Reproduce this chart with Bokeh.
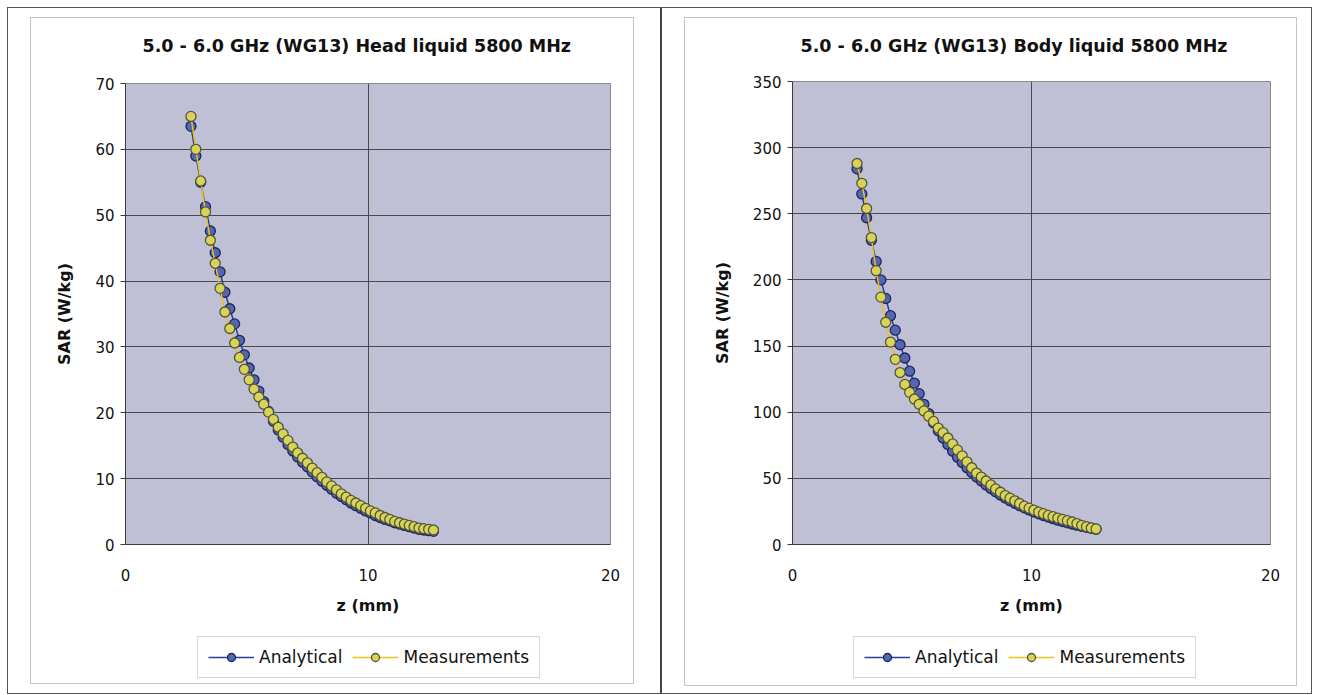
from bokeh.plotting import figure
from bokeh.layouts import row, column
from bokeh.models import Range1d, FixedTicker, Legend, LegendItem, Title
from bokeh.embed import file_html
from bokeh.resources import INLINE

# ---------------- data ----------------
z_mm = [2.7, 2.9, 3.1, 3.3, 3.5, 3.7, 3.9, 4.1, 4.3, 4.5,
        4.7, 4.9, 5.1, 5.3, 5.5, 5.7, 5.9, 6.1, 6.3, 6.5,
        6.7, 6.9, 7.1, 7.3, 7.5, 7.7, 7.9, 8.1, 8.3, 8.5,
        8.7, 8.9, 9.1, 9.3, 9.5, 9.7, 9.9, 10.1, 10.3, 10.5,
        10.7, 10.9, 11.1, 11.3, 11.5, 11.7, 11.9, 12.1, 12.3, 12.5,
        12.7]

head_analytical = [63.5, 59.0, 55.0, 51.3, 47.6, 44.3, 41.4, 38.3, 35.8, 33.5,
                   31.0, 28.8, 26.8, 25.0, 23.3, 21.7, 20.2, 18.7, 17.4, 16.3,
                   15.2, 14.2, 13.3, 12.5, 11.8, 11.0, 10.3, 9.6, 9.0, 8.4,
                   7.8, 7.3, 6.8, 6.3, 5.9, 5.5, 5.1, 4.8, 4.4, 4.1,
                   3.8, 3.6, 3.3, 3.1, 2.9, 2.7, 2.5, 2.3, 2.2, 2.1,
                   2.0]

head_measured = [65.0, 60.0, 55.2, 50.5, 46.2, 42.7, 38.9, 35.3, 32.8, 30.6,
                 28.4, 26.6, 25.0, 23.6, 22.4, 21.3, 20.1, 19.0, 17.8, 16.8,
                 15.8, 14.8, 13.9, 13.1, 12.4, 11.6, 10.9, 10.2, 9.5, 8.9,
                 8.3, 7.7, 7.2, 6.7, 6.3, 5.9, 5.5, 5.1, 4.8, 4.4,
                 4.1, 3.8, 3.5, 3.3, 3.1, 2.9, 2.7, 2.5, 2.4, 2.3,
                 2.2]

body_analytical = [284, 265, 247, 230, 214, 200, 186, 173, 162, 151,
                   141, 131, 122, 114, 106, 99, 92, 86, 80.5, 75.5,
                   70.5, 66, 62, 58, 54.5, 51, 48, 45, 42.3, 39.8,
                   37.4, 35.2, 33.1, 31.2, 29.4, 27.7, 26.1, 24.6, 23.2, 21.9,
                   20.7, 19.5, 18.4, 17.4, 16.4, 15.5, 14.6, 13.8, 13.0, 12.3,
                   11.6]

body_measured = [288, 273, 254, 232, 207, 187, 168, 153, 140, 130,
                 121, 115, 110, 106, 101, 97, 93, 88, 84.5, 80.5,
                 76, 71.5, 67, 62.5, 58, 54, 51, 48, 45, 42,
                 39.5, 37, 35, 33, 31, 29, 27.5, 26, 24.5, 23.3,
                 22, 21, 20, 19, 18, 17, 15.8, 14.5, 13.5, 12.5,
                 11.8]

x_ticks = [0, 10, 20]
head_y_ticks = [0, 10, 20, 30, 40, 50, 60, 70]
body_y_ticks = [0, 50, 100, 150, 200, 250, 300, 350]

head_title = "5.0 - 6.0 GHz (WG13) Head liquid 5800 MHz"
body_title = "5.0 - 6.0 GHz (WG13) Body liquid 5800 MHz"
series_names = ["Analytical", "Measurements"]
x_label = "z (mm)"
y_label = "SAR (W/kg)"

FONT = "DejaVu Sans"

ANA_STYLE = dict(fill_color="#5565b2", line_color="#1c2660")
MEAS_STYLE = dict(fill_color="#d8d45a", line_color="#55553a")
ANA_LINE = "#2e3d96"
MEAS_LINE = "#e8c21a"


def add_series(p, ana, meas):
    la = p.line(z_mm, ana, line_color=ANA_LINE, line_width=1.5)
    sa = p.scatter(z_mm, ana, marker="circle", size=10, line_width=1.3, **ANA_STYLE)
    lm = p.line(z_mm, meas, line_color=MEAS_LINE, line_width=1.5)
    sm = p.scatter(z_mm, meas, marker="circle", size=10, line_width=1.3, **MEAS_STYLE)
    return la, sa, lm, sm


def make_panel(title, ana, meas, ymax, yticks, fw, fh, mbl, mbr, mbt, mbb, toff, gap):
    p = figure(frame_width=fw, frame_height=fh, title=None,
               x_range=Range1d(0, 20), y_range=Range1d(0, ymax),
               output_backend="svg", toolbar_location=None,
               min_border_left=mbl, min_border_right=mbr,
               min_border_top=mbt, min_border_bottom=mbb)
    p.background_fill_color = "#bfbfd6"
    p.border_fill_color = "white"
    p.outline_line_color = "#8a8a8a"
    p.outline_line_width = 1

    # spacer between the frame and the title
    p.add_layout(Title(text=" ", text_font_size="1px", standoff=gap), "above")
    p.add_layout(Title(text=title, align="left", offset=toff, standoff=20,
                       text_font=FONT, text_font_size="17.5px",
                       text_font_style="bold", text_color="#111111"), "above")

    xt = FixedTicker(ticks=x_ticks)
    yt = FixedTicker(ticks=yticks)
    p.xaxis.ticker = xt
    p.xgrid.ticker = xt
    p.yaxis.ticker = yt
    p.ygrid.ticker = yt
    p.xgrid.grid_line_color = "#4a4a4a"
    p.ygrid.grid_line_color = "#4a4a4a"

    for ax in (p.xaxis, p.yaxis):
        ax.axis_line_color = "#3a3a3a"
        ax.major_tick_line_color = "#3a3a3a"
        ax.minor_tick_line_color = None
        ax.major_label_text_font = FONT
        ax.major_label_text_font_size = "15px"
        ax.major_label_text_color = "#111111"
        ax.axis_label_text_font = FONT
        ax.axis_label_text_font_size = "16px"
        ax.axis_label_text_font_style = "bold"
        ax.axis_label_text_color = "#111111"

    p.xaxis.major_tick_out = 0
    p.xaxis.major_tick_in = 0
    p.xaxis.major_label_standoff = 24
    p.xaxis.axis_label = x_label
    p.xaxis.axis_label_standoff = 12

    p.yaxis.major_tick_out = 5
    p.yaxis.major_tick_in = 0
    p.yaxis.major_label_standoff = 6
    p.yaxis.axis_label = y_label
    p.yaxis.axis_label_standoff = 18

    add_series(p, ana, meas)
    return p


def make_legend_fig(w, h, loc, ana, meas):
    # legend-only strip; its ranges keep the series out of view
    q = figure(width=w, height=h, x_range=Range1d(-20, -19), y_range=Range1d(0, 1),
               output_backend="svg", toolbar_location=None,
               x_axis_location=None, y_axis_location=None, min_border=0)
    q.grid.visible = False
    q.outline_line_color = None
    q.background_fill_color = "white"
    q.border_fill_color = "white"
    la, sa, lm, sm = add_series(q, ana, meas)
    legend = Legend(items=[LegendItem(label=series_names[0], renderers=[la, sa]),
                           LegendItem(label=series_names[1], renderers=[lm, sm])],
                    orientation="horizontal", location=loc,
                    label_text_font=FONT, label_text_font_size="17px",
                    label_text_color="#111111",
                    glyph_width=46, glyph_height=20, label_standoff=5,
                    spacing=10, padding=10, margin=0,
                    border_line_color="#b0b0b0", background_fill_color="white")
    q.add_layout(legend, "center")
    return q


p_left = make_panel(head_title, head_analytical, head_measured, 70, head_y_ticks,
                    485, 461, 94, 23, 65, 81, 17, 15)
leg_left = make_legend_fig(602, 58, (72, 5), head_analytical, head_measured)
inner_left = column(p_left, leg_left, styles={"border": "1px solid #c4c4c4"})
inner_left.margin = (9, 26, 9, 22)

p_right = make_panel(body_title, body_analytical, body_measured, 350, body_y_ticks,
                     478, 463, 107, 26, 63, 81, 8, 13)
leg_right = make_legend_fig(611, 60, (61, 7), body_analytical, body_measured)
inner_right = column(p_right, leg_right, styles={"border": "1px solid #c4c4c4"})
inner_right.margin = (9, 14, 7, 22)

cell_left = column(inner_left, styles={"border-right": "2px solid #444444"})
cell_right = column(inner_right)
layout = row(cell_left, cell_right, styles={"border": "1px solid #555555"})
layout.margin = (7, 0, 0, 7)

open("out.html", "w").write(file_html(layout, INLINE))
